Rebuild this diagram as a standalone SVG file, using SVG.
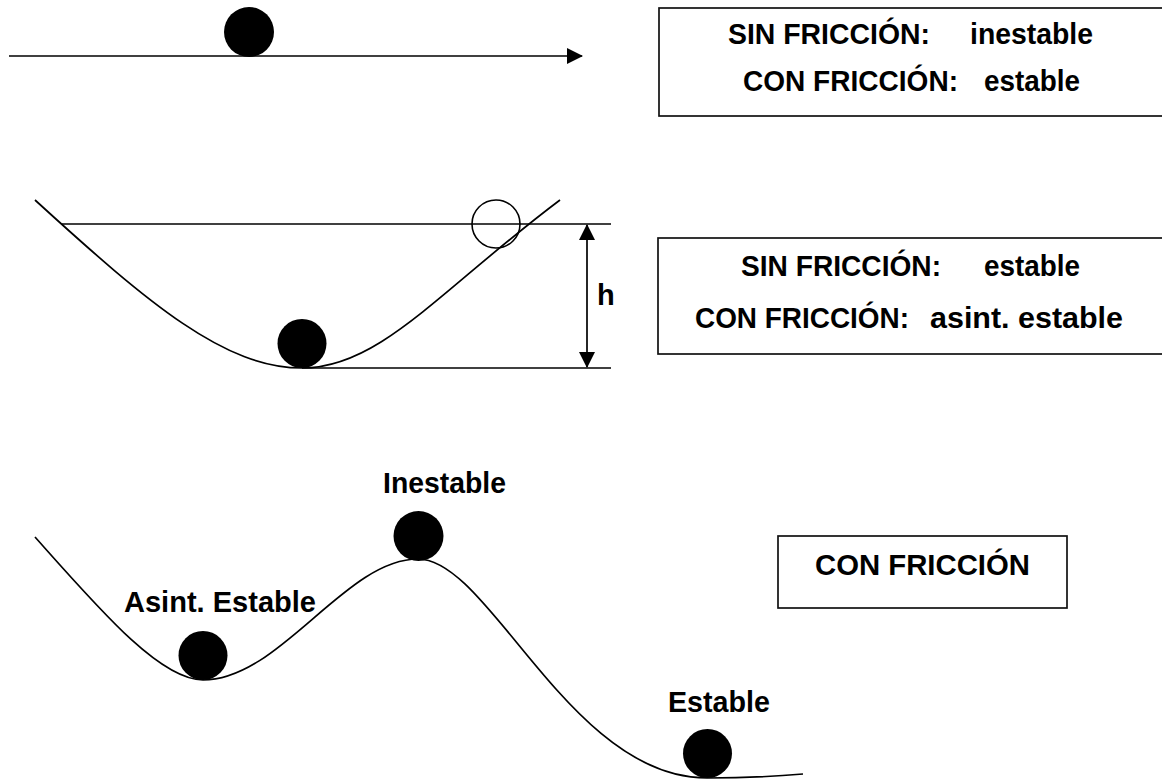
<svg xmlns="http://www.w3.org/2000/svg" width="1162" height="782" viewBox="0 0 1162 782">
  <defs>
    <style>
      .ln { fill: none; stroke: #000; stroke-width: 1.7; }
      .box { fill: #fff; stroke: #111; stroke-width: 1.7; }
      .ball { fill: #000; }
      .hollow { fill: none; stroke: #000; stroke-width: 1.6; }
      .t { font-family: "Liberation Sans", Arial, sans-serif; font-weight: bold; font-size: 29px; fill: #000; }
    </style>
    <marker id="head" viewBox="0 0 16 16" refX="15" refY="8" markerWidth="16" markerHeight="16" markerUnits="userSpaceOnUse" orient="auto-start-reverse">
      <path d="M0,0 L16,8 L0,16 Z" fill="#000"/>
    </marker>
  </defs>

  <!-- case 1: ball on a flat surface -->
  <g id="flat-surface">
    <circle class="ball" cx="249" cy="32" r="25"/>
  </g>

  <g id="box-flat">
    <rect class="box" x="659" y="8" width="520" height="108"/>
    <text class="t"><tspan x="728" y="44" textLength="202" lengthAdjust="spacingAndGlyphs">SIN FRICCIÓN:</tspan><tspan x="970" y="44" textLength="123" lengthAdjust="spacingAndGlyphs">inestable</tspan></text>
    <text class="t"><tspan x="743" y="91" textLength="215" lengthAdjust="spacingAndGlyphs">CON FRICCIÓN:</tspan><tspan x="984" y="91" textLength="96" lengthAdjust="spacingAndGlyphs">estable</tspan></text>
  </g>

  <!-- case 2: ball in a bowl -->
  <g id="bowl">
    <path class="ln" d="M35,200 C150,305 225,368 302,368 C380,368 440,290 560,200"/>
    <line class="ln" x1="62" y1="224" x2="611" y2="224"/>
    <line class="ln" x1="302" y1="368" x2="611" y2="368"/>
    <circle class="hollow" cx="496" cy="224" r="24"/>
    <circle class="ball" cx="302" cy="343.5" r="24.5"/>
    <text class="t" x="597" y="305">h</text>
  </g>

  <g id="box-bowl">
    <rect class="box" x="658" y="238" width="520" height="116"/>
    <text class="t"><tspan x="741" y="276" textLength="200" lengthAdjust="spacingAndGlyphs">SIN FRICCIÓN:</tspan><tspan x="984" y="276" textLength="96" lengthAdjust="spacingAndGlyphs">estable</tspan></text>
    <text class="t"><tspan x="695" y="328" textLength="214" lengthAdjust="spacingAndGlyphs">CON FRICCIÓN:</tspan><tspan x="930" y="328" textLength="193" lengthAdjust="spacingAndGlyphs">asint. estable</tspan></text>
  </g>

  <!-- case 3: landscape with a valley, a hump and a lower valley -->
  <g id="landscape">
    <path class="ln" d="M35,537 C100,610 160,680 203,680 C280,680 345,559 418,559 C490,559 570,778 707,778 C750,778 780,776 803,774"/>
    <circle class="ball" cx="203" cy="655.5" r="24.5"/>
    <circle class="ball" cx="418.5" cy="536" r="25"/>
    <circle class="ball" cx="707.5" cy="753.5" r="24.5"/>
    <text class="t" x="124" y="612" textLength="192" lengthAdjust="spacingAndGlyphs">Asint. Estable</text>
    <text class="t" x="383" y="493" textLength="123" lengthAdjust="spacingAndGlyphs">Inestable</text>
    <text class="t" x="668" y="712" textLength="102" lengthAdjust="spacingAndGlyphs">Estable</text>
  </g>

  <g id="box-landscape">
    <rect class="box" x="778" y="536" width="289" height="72"/>
    <text class="t" x="815" y="575" textLength="215" lengthAdjust="spacingAndGlyphs">CON FRICCIÓN</text>
  </g>

  <!-- arrows -->
  <g id="connectors">
    <line class="ln" x1="9" y1="56" x2="582" y2="56" marker-end="url(#head)"/>
    <line class="ln" x1="587" y1="225" x2="587" y2="367" marker-start="url(#head)" marker-end="url(#head)"/>
  </g>
</svg>
